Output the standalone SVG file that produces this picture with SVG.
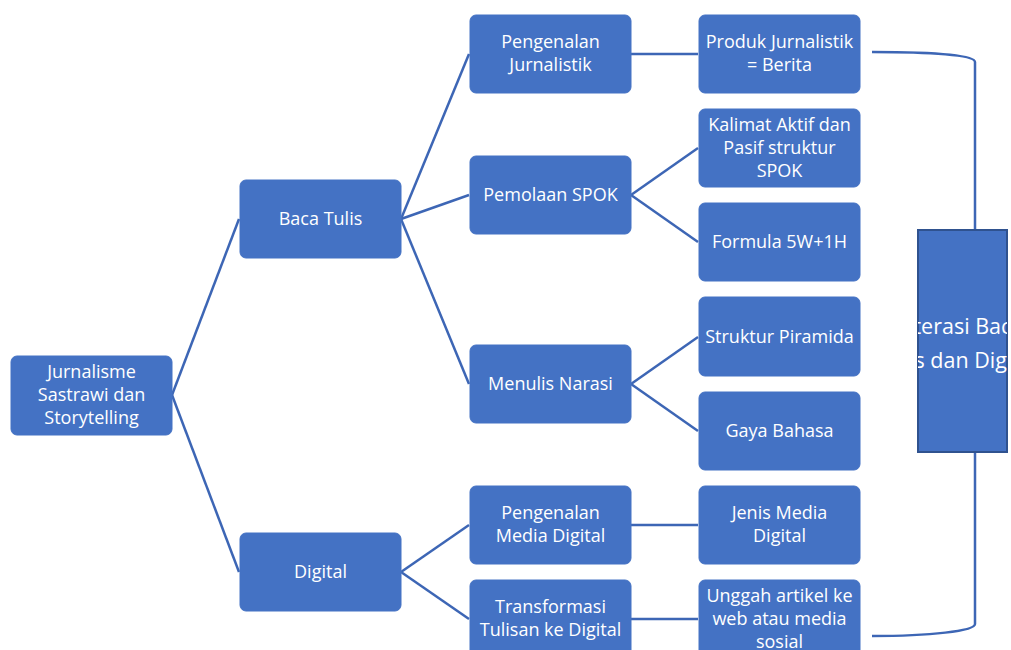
<svg xmlns="http://www.w3.org/2000/svg" width="1011" height="650" viewBox="0 0 1011 650">
<style>
.n rect{fill:#4472C4;stroke:#4472C4;stroke-width:1}
.n text{fill:#fff;font-family:"Open Sans","Noto Sans",sans-serif;font-size:18px;text-anchor:middle}
.c line,.c path{stroke:#3D66B5;stroke-width:2.5;fill:none}
</style>
<defs>
<clipPath id="cb"><rect x="918" y="230" width="89" height="222"/></clipPath>
</defs>
<rect width="1011" height="650" fill="#fff"/>
<g class="c">
<line x1="172" y1="395" x2="239" y2="219"/>
<line x1="172" y1="395" x2="239" y2="572"/>
<line x1="401" y1="219" x2="469" y2="54"/>
<line x1="401" y1="219" x2="469" y2="195"/>
<line x1="401" y1="219" x2="469" y2="384"/>
<line x1="631" y1="54" x2="698" y2="54"/>
<line x1="631" y1="195" x2="698" y2="148"/>
<line x1="631" y1="195" x2="698" y2="242"/>
<line x1="631" y1="384" x2="698" y2="337"/>
<line x1="631" y1="384" x2="698" y2="431"/>
<line x1="401" y1="572" x2="469" y2="525"/>
<line x1="401" y1="572" x2="469" y2="619"/>
<line x1="631" y1="525" x2="698" y2="525"/>
<line x1="631" y1="619" x2="698" y2="619"/>
<path d="M872 52 C930 52 975 55 975 62 L975 624 C975 631 930 636 872 636"/>
</g>
<g id="root" class="n"><rect x="11" y="356" width="161" height="79" rx="6"/><text x="91.5" y="378">Jurnalisme</text><text x="91.5" y="401">Sastrawi dan</text><text x="91.5" y="424">Storytelling</text></g>
<g id="baca" class="n"><rect x="240" y="180" width="161" height="78" rx="6"/><text x="320.5" y="225">Baca Tulis</text></g>
<g id="digital" class="n"><rect x="240" y="533" width="161" height="78" rx="6"/><text x="320.5" y="578">Digital</text></g>
<g id="pjur" class="n"><rect x="470" y="15" width="161" height="78" rx="6"/><text x="550.5" y="48">Pengenalan</text><text x="550.5" y="71">Jurnalistik</text></g>
<g id="spok" class="n"><rect x="470" y="156" width="161" height="78" rx="6"/><text x="550.5" y="201">Pemolaan SPOK</text></g>
<g id="narasi" class="n"><rect x="470" y="345" width="161" height="78" rx="6"/><text x="550.5" y="390">Menulis Narasi</text></g>
<g id="pmedia" class="n"><rect x="470" y="486" width="161" height="78" rx="6"/><text x="550.5" y="519">Pengenalan</text><text x="550.5" y="542">Media Digital</text></g>
<g id="trans" class="n"><rect x="470" y="580" width="161" height="78" rx="6"/><text x="550.5" y="613">Transformasi</text><text x="550.5" y="636">Tulisan ke Digital</text></g>
<g id="produk" class="n"><rect x="699" y="15" width="161" height="78" rx="6"/><text x="779.5" y="48">Produk Jurnalistik</text><text x="779.5" y="71">= Berita</text></g>
<g id="kalimat" class="n"><rect x="699" y="109" width="161" height="78" rx="6"/><text x="779.5" y="131">Kalimat Aktif dan</text><text x="779.5" y="154">Pasif struktur</text><text x="779.5" y="177">SPOK</text></g>
<g id="formula" class="n"><rect x="699" y="203" width="161" height="78" rx="6"/><text x="779.5" y="248">Formula 5W+1H</text></g>
<g id="piramida" class="n"><rect x="699" y="297" width="161" height="79" rx="6"/><text x="779.5" y="343">Struktur Piramida</text></g>
<g id="gaya" class="n"><rect x="699" y="392" width="161" height="78" rx="6"/><text x="779.5" y="437">Gaya Bahasa</text></g>
<g id="jenis" class="n"><rect x="699" y="486" width="161" height="78" rx="6"/><text x="779.5" y="519">Jenis Media</text><text x="779.5" y="542">Digital</text></g>
<g id="unggah" class="n"><rect x="699" y="580" width="161" height="78" rx="6"/><text x="779.5" y="602">Unggah artikel ke</text><text x="779.5" y="625">web atau media</text><text x="779.5" y="648">sosial</text></g>
<g id="literasi">
<rect x="918" y="230" width="89" height="222" fill="#4472C4" stroke="#2F528F" stroke-width="2"/>
<g clip-path="url(#cb)" fill="#fff" font-family="'Open Sans','Noto Sans',sans-serif" font-size="21.5px" text-anchor="middle">
<text x="960" y="334">Literasi Baca</text>
<text x="958" y="368">Tulis dan Digital</text>
</g>
</g>
</svg>
